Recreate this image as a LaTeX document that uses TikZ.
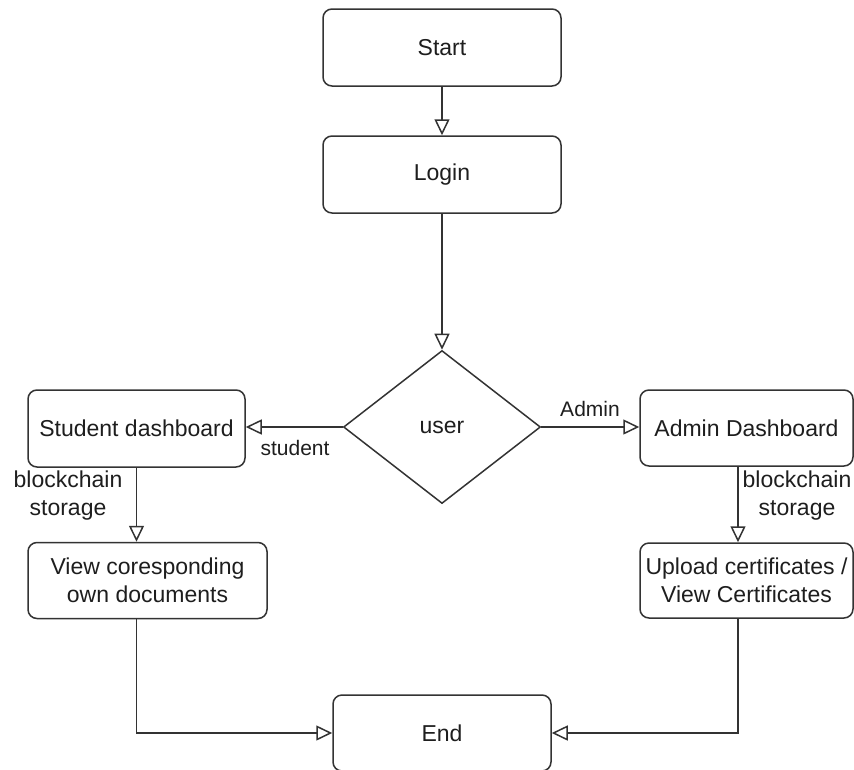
\documentclass[tikz,border=0pt]{standalone}
\usepackage{fontspec}
\setmainfont{Liberation Sans}
\usetikzlibrary{shapes.geometric,arrows.meta,positioning}
\definecolor{ln}{HTML}{333333}
\definecolor{tx}{HTML}{1E1E1E}
\begin{document}
\begin{tikzpicture}[x=1pt,y=-1pt,
  box/.style={draw=ln,line width=1.5pt,rounded corners=9pt,fill=white,text=tx,align=center,inner sep=0pt,font=\fontsize{23}{28}\selectfont},
  dec/.style={draw=ln,line width=1.5pt,diamond,fill=white,text=tx,inner sep=0pt,minimum width=197pt,minimum height=153pt,font=\fontsize{23}{28}\selectfont},
  arr/.style={draw=ln,line width=1.5pt,-{Triangle[open,length=16pt,width=15pt,line width=1.5pt]}},
  lbl/.style={text=tx,align=center,inner sep=0pt,font=\fontsize{23}{28}\selectfont},
  slbl/.style={text=tx,inner sep=0pt,font=\fontsize{21}{25}\selectfont}]
\useasboundingbox (0,0) rectangle (854,769);
\node[box,minimum width=238pt,minimum height=77pt] (start) at (442,47.5) {Start};
\node[box,minimum width=238pt,minimum height=77pt] (login) at (442,174.5) {Login};
\node[dec] (user) at (442,427) {user};
\node[box,minimum width=217pt,minimum height=77pt] (student) at (136.5,428.5) {Student dashboard};
\node[box,minimum width=239pt,minimum height=76pt] (view) at (147.5,580.5) {View coresponding\\own documents};
\node[box,minimum width=213pt,minimum height=76pt] (admin) at (746.5,428) {Admin Dashboard};
\node[box,minimum width=213pt,minimum height=75pt] (upload) at (746.5,580.5) {Upload certificates /\\View Certificates};
\node[box,minimum width=218pt,minimum height=76pt] (end) at (442,733) {End};
\draw[arr] (start) -- (login);
\draw[arr] (login) -- (user);
\draw[arr] (user.west) -- (student.east |- user.west);
\draw[arr] (user.east) -- (admin.west |- user.east);
\draw[arr] (student.south) -- (student.south |- view.north);
\draw[arr] ([xshift=-8.5pt]admin.south) -- ([xshift=-8.5pt]upload.north);
\draw[arr] (student.south |- view.south) |- (end.west);
\draw[arr] ([xshift=-8.5pt]upload.south) |- (end.east);
\node[slbl] (lstudent) at (295,448) {student};
\node[slbl] (ladmin) at (590,409) {Admin};
\node[lbl] (lbc1) at (68,496) {blockchain\\storage};
\node[lbl] (lbc2) at (797,496) {blockchain\\storage};
\end{tikzpicture}
\end{document}
